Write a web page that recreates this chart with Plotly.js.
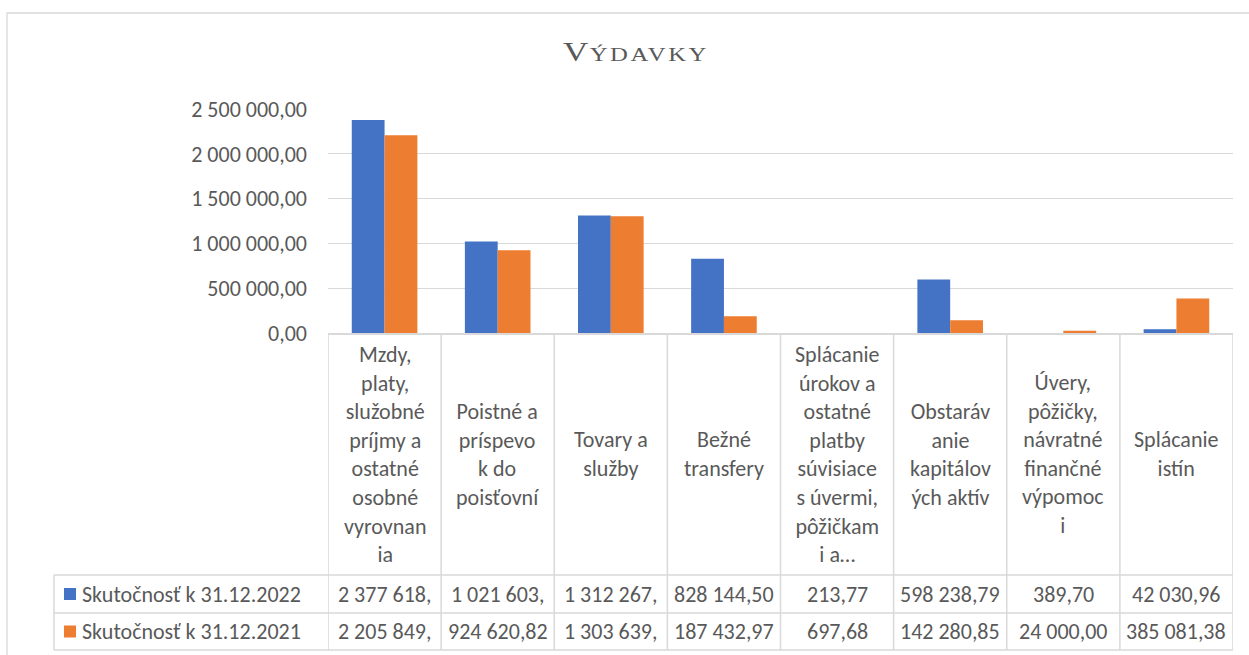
<!DOCTYPE html>
<html>
<head>
<meta charset="utf-8">
<script src="https://cdn.plot.ly/plotly-3.0.1.min.js"></script>
<style>
html,body{margin:0;padding:0;background:#fff;}
#chart{width:1249px;height:655px;}
</style>
</head>
<body>
<div id="chart"></div>
<script>
// ---- data ----
var categories = [
  "Mzdy,<br>platy,<br>služobné<br>príjmy a<br>ostatné<br>osobné<br>vyrovnan<br>ia",
  "Poistné a<br>príspevo<br>k do<br>poisťovní",
  "Tovary a<br>služby",
  "Bežné<br>transfery",
  "Splácanie<br>úrokov a<br>ostatné<br>platby<br>súvisiace<br>s úvermi,<br>pôžičkam<br>i a…",
  "Obstaráv<br>anie<br>kapitálov<br>ých aktív",
  "Úvery,<br>pôžičky,<br>návratné<br>finančné<br>výpomoc<br>i",
  "Splácanie<br>istín"
];
var seriesNames = ["Skutočnosť k 31.12.2022", "Skutočnosť k 31.12.2021"];
var values2022 = [2377618.00, 1021603.00, 1312267.00, 828144.50, 213.77, 598238.79, 389.70, 42030.96];
var values2021 = [2205849.00, 924620.82, 1303639.00, 187432.97, 697.68, 142280.85, 24000.00, 385081.38];
var seriesColors = ["#4472C4", "#ED7D31"];
var yTickVals = [0, 500000, 1000000, 1500000, 2000000, 2500000];
var titleText = '<span style="letter-spacing:1px">V</span><span style="font-size:19px;letter-spacing:2px">ÝDAVKY</span>';

// ---- helpers ----
function fmt(v){
  var s = v.toFixed(2).split(".");
  var intp = s[0].replace(/\B(?=(\d{3})+(?!\d))/g, " ");
  return intp + "," + s[1];
}
function cellText(v){ var t = fmt(v); return t.length > 10 ? t.slice(0,10) : t; }

var W = 1249, H = 655, L = 328, R = 1233, T = 109, B = 333;
function px(x){ return (x - L) / (R - L); }
function py(y){ return (B - y) / (B - T); }

var font = "Carlito, Lato, sans-serif";
var txtColor = "#595959";
var lineColor = "#D9D9D9";
var xIdx = categories.map(function(_, i){ return i; });

var traces = [
  {type:"bar", x:xIdx, y:values2022, name:seriesNames[0], marker:{color:seriesColors[0], line:{width:0}}, hoverinfo:"skip"},
  {type:"bar", x:xIdx, y:values2021, name:seriesNames[1], marker:{color:seriesColors[1], line:{width:0}}, hoverinfo:"skip"}
];

var shapes = [];
var ann = [];
// outer chart border
shapes.push({type:"rect", xref:"paper", yref:"paper", x0:px(7), x1:px(1262), y0:py(13), y1:py(672), line:{color:lineColor, width:1.3}, layer:"below"});
// table vertical lines (category boundaries)
for (var k = 0; k <= categories.length; k++){
  shapes.push({type:"line", xref:"x", yref:"paper", x0:k-0.5, x1:k-0.5, y0:0, y1:py(650), line:{color:lineColor, width:1.5}});
}
// legend column left edge
shapes.push({type:"line", xref:"paper", yref:"paper", x0:px(54), x1:px(54), y0:py(575), y1:py(650), line:{color:lineColor, width:1.5}});
// horizontal table lines
[575, 613, 650].forEach(function(yy){
  shapes.push({type:"line", xref:"paper", yref:"paper", x0:px(54), x1:1, y0:py(yy), y1:py(yy), line:{color:lineColor, width:1.5}});
});
// category labels
categories.forEach(function(c, i){
  ann.push({x:i, xref:"x", y:py(454), yref:"paper", text:c, showarrow:false, xanchor:"center", yanchor:"middle", align:"center", font:{family:font, size:22, color:txtColor}});
});
// data rows
var rowY = [594, 631.5];
[values2022, values2021].forEach(function(vals, r){
  shapes.push({type:"rect", xref:"paper", yref:"paper", x0:px(64), x1:px(76), y0:py(rowY[r]-6), y1:py(rowY[r]+6), fillcolor:seriesColors[r], line:{width:0}});
  ann.push({x:px(80), xref:"paper", y:py(rowY[r]), yref:"paper", text:seriesNames[r], showarrow:false, xanchor:"left", yanchor:"middle", font:{family:font, size:22, color:txtColor}});
  vals.forEach(function(v, i){
    ann.push({x:i, xref:"x", y:py(rowY[r]), yref:"paper", text:cellText(v), showarrow:false, xanchor:"center", yanchor:"middle", font:{family:font, size:22, color:txtColor}});
  });
});

var layout = {
  width:W, height:H,
  margin:{l:L, r:W-R, t:T, b:H-B, pad:0},
  paper_bgcolor:"#fff", plot_bgcolor:"#fff",
  showlegend:false,
  barmode:"group", bargap:0.42, bargroupgap:0,
  title:{text:titleText, font:{family:"Liberation Serif", size:27, color:txtColor}, xref:"paper", x:px(636), xanchor:"center", yref:"container", y:1-52/H, yanchor:"middle"},
  xaxis:{range:[-0.5, categories.length-0.5], showticklabels:false, showgrid:false, zeroline:false, showline:true, linecolor:lineColor, linewidth:1.5, ticks:"", fixedrange:true},
  yaxis:{range:[0, 2500000], tickvals:yTickVals, ticktext:yTickVals.map(fmt), tickfont:{family:font, size:22, color:txtColor}, showgrid:true, gridcolor:lineColor, gridwidth:1.3, zeroline:false, showline:false, ticks:"", ticklabelstandoff:20, fixedrange:true},
  shapes:shapes,
  annotations:ann
};

Plotly.newPlot("chart", traces, layout, {staticPlot:true, displayModeBar:false}).then(function(gd){
  // widen the title glyphs like the reference's stretched serif
  var t = gd.querySelector(".gtitle");
  if (t) {
    var cx = parseFloat(t.getAttribute("x")) || 0;
    var prev = t.getAttribute("transform") || "";
    t.setAttribute("transform", "translate(" + cx + ",0) scale(1.3,1) translate(" + (-cx) + ",0) " + prev);
  }
});
</script>
</body>
</html>
